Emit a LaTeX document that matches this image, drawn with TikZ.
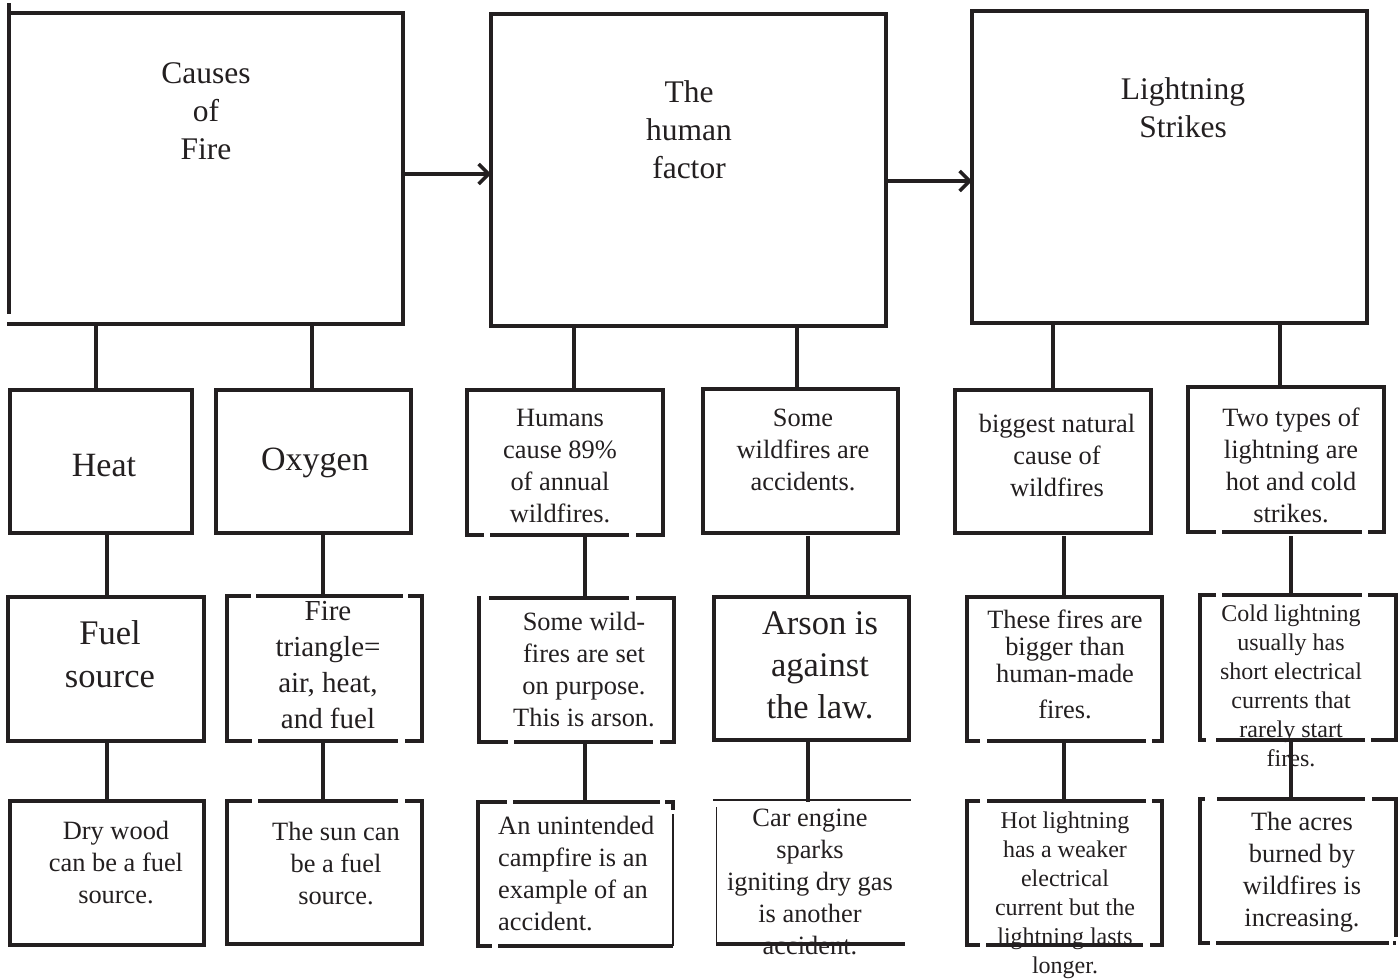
\documentclass[tikz,border=0pt]{standalone}
\usepackage{fontspec}
\setmainfont{Liberation Serif}
\usetikzlibrary{fit,arrows.meta}
\definecolor{ink}{RGB}{35,31,32}
\tikzset{
  area/.style={inner sep=0pt, outer sep=0pt},
  ln/.style={draw=ink, line width=3.4pt, line cap=rect},
  rim/.style={draw=ink, line width=3.4pt, line cap=rect, line join=miter},
  dsh/.style={draw=ink, line width=3.4pt, line cap=butt, dash pattern=#1},
  txt/.style={align=center, inner sep=0pt, text=ink, font=\fontsize{26.4}{32}\selectfont},
  arr/.style={draw=ink, line width=3.4pt, -{Straight Barb[length=10pt,width=20pt]}},
}
\newcommand\mkbox[5]{\node[area, fit={(#2,#3) (#4,#5)}] (#1) {};}
\newcommand\vlink[4][]{\coordinate (vk) at (#4,0); \draw[ln,#1] (#2.south -| vk) -- (#3.north -| vk);}
\newcommand\rimbox[1]{\draw[rim] (#1.north west) rectangle (#1.south east);}
\begin{document}
\begin{tikzpicture}[x=1pt,y=-1pt]
\useasboundingbox[fill=white] (0,0) rectangle (1400,979);
% box areas
\mkbox{cf}{9}{13}{403}{324}
\mkbox{hf}{491}{14}{886}{326}
\mkbox{ls}{972}{11}{1367}{323}
\mkbox{heat}{10}{390}{192}{533}
\mkbox{oxy}{216}{390}{411}{533}
\mkbox{hum}{467}{390}{663}{535}
\mkbox{acc}{703}{389}{898}{533}
\mkbox{big}{955}{390}{1151}{533}
\mkbox{two}{1188}{387}{1384}{532}
\mkbox{fuel}{8}{597}{204}{741}
\mkbox{tri}{227}{596}{422}{741}
\mkbox{pur}{479}{598}{674}{742}
\mkbox{ars}{714}{597}{909}{740}
\mkbox{the}{967}{597}{1162}{741}
\mkbox{cold}{1200}{595}{1396}{740}
\mkbox{dry}{10}{801}{204}{945}
\mkbox{sun}{227}{801}{422}{944}
\mkbox{uni}{478}{802}{673}{946}
\mkbox{car}{716}{800}{908}{944}
\mkbox{hot}{967}{801}{1162}{945}
\mkbox{acr}{1200}{799}{1396}{943}
% texts
\node[txt, font=\fontsize{31.5}{38}\selectfont] (cft) at (206,111) {Causes\\of\\Fire};
\node[txt, font=\fontsize{31.5}{38}\selectfont] (hft) at (689,130) {The\\human\\factor};
\node[txt, font=\fontsize{31.5}{38}\selectfont] (lst) at (1183,108) {Lightning\\Strikes};
\node[txt, font=\fontsize{34}{42}\selectfont] (heatt) at (104,466) {Heat};
\node[txt, font=\fontsize{34}{42}\selectfont] (oxyt) at (315,463) {Oxygen};
\node[txt] (humt) at (560,466) {Humans\\cause 89\%\\of annual\\wildfires.};
\node[txt] (acct) at (803,450) {Some\\wildfires are\\accidents.};
\node[txt] (bigt) at (1057,455) {biggest natural\\cause of\\wildfires};
\node[txt] (twot) at (1291,465) {Two types of\\lightning are\\hot and cold\\strikes.};
\node[txt, font=\fontsize{34.5}{43}\selectfont] (fuelt) at (110,654) {Fuel\\source};
\node[txt, font=\fontsize{29}{36}\selectfont] (trit) at (328,665) {Fire\\triangle=\\air, heat,\\and fuel};
\node[txt] (purt) at (584,670) {Some wild-\\fires are set\\on purpose.\\This is arson.};
\node[txt, font=\fontsize{34.5}{42}\selectfont] (arst) at (820,665) {Arson is\\against\\the law.};
\node[txt, font=\fontsize{26.4}{27}\selectfont] (thet) at (1065,664) {These fires are\\bigger than\\human-made\\[9pt]fires.};
\node[txt, font=\fontsize{24}{29}\selectfont] (coldt) at (1291,686) {Cold lightning\\usually has\\short electrical\\currents that\\rarely start\\fires.};
\node[txt] (dryt) at (116,863) {Dry wood\\can be a fuel\\source.};
\node[txt] (sunt) at (336,864) {The sun can\\be a fuel\\source.};
\node[txt, align=left, anchor=west] (unt) at (498,874) {An unintended\\campfire is an\\example of an\\accident.};
\node[txt] (cart) at (810,882) {Car engine\\sparks\\igniting dry gas\\is another\\accident.};
\node[txt, font=\fontsize{24}{29}\selectfont] (hott) at (1065,895) {Hot lightning\\has a weaker\\electrical\\current but the\\lightning lasts\\longer.};
\node[txt] (acrt) at (1302,872) {The acres\\burned by\\wildfires is\\increasing.};
% top boxes
\draw[rim] (cf.north west) -- (cf.north east) -- (cf.south east) -- (cf.south west);
\draw[ln] ([yshift=8pt]cf.north west) -- ([yshift=12pt]cf.south west);
\rimbox{hf}
\rimbox{ls}
% solid boxes
\rimbox{heat}
\rimbox{oxy}
\rimbox{acc}
\rimbox{big}
\rimbox{fuel}
\rimbox{ars}
\rimbox{dry}
% boxes with gaps
\draw[rim] (hum.south west) -- (hum.north west) -- (hum.north east) -- (hum.south east);
\draw[dsh={on 17pt off 6pt on 139pt off 7pt on 60pt}] (hum.south west) -- (hum.south east);
\draw[rim] (two.south west) -- (two.north west) -- (two.north east) -- (two.south east);
\draw[dsh={on 28pt off 6pt on 140pt off 6pt on 60pt}] (two.south west) -- (two.south east);
\draw[ln] (tri.north west) -- (tri.south west);
\draw[ln] (tri.north east) -- (tri.south east);
\draw[dsh={on 24pt off 5pt on 147pt off 5pt on 60pt}] (tri.north west) -- (tri.north east);
\draw[dsh={on 25pt off 6pt on 140pt off 7pt on 60pt}] (tri.south west) -- (tri.south east);
\draw[ln] (pur.north west) -- (pur.south west);
\draw[ln] (pur.north east) -- (pur.south east);
\draw[dsh={on 2pt off 8pt on 140pt off 7pt on 60pt}] (pur.north west) -- (pur.north east);
\draw[dsh={on 29pt off 6pt on 139pt off 7pt on 60pt}] (pur.south west) -- (pur.south east);
\draw[rim] (the.south west) -- (the.north west) -- (the.north east) -- (the.south east);
\draw[dsh={on 13pt off 7pt on 159pt off 6pt on 60pt}] (the.south west) -- (the.south east);
\draw[ln] (cold.north west) -- (cold.south west);
\draw[ln] (cold.north east) -- (cold.south east);
\draw[dsh={on 16pt off 6pt on 140pt off 6pt on 60pt}] (cold.north west) -- (cold.north east);
\draw[dsh={on 6pt off 10pt on 149pt off 6pt on 60pt}] (cold.south west) -- (cold.south east);
\draw[rim] (sun.north west) -- (sun.south west) -- (sun.south east) -- (sun.north east);
\draw[dsh={on 25pt off 6pt on 140pt off 7pt on 60pt}] (sun.north west) -- (sun.north east);
\draw[ln] (uni.north west) -- (uni.south west);
\draw[ln] ([yshift=-6pt]uni.north east) -- (uni.north east);
\draw[draw=ink, line width=1.5pt] ([yshift=-12pt]uni.north east) -- (uni.south east);
\draw[dsh={on 29pt off 6pt on 147pt off 5pt on 60pt}] (uni.north west) -- (uni.north east);
\draw[dsh={on 14pt off 6pt on 200pt}] (uni.south west) -- (uni.south east);
\draw[draw=ink, line width=2pt] ([xshift=-3pt]car.north west) -- ([xshift=3pt]car.north east);
\draw[draw=ink, line width=1pt] ([yshift=-7pt]car.north west) -- (car.south west);
\draw[draw=ink, line width=3.4pt] (car.south west) -- ([xshift=-3pt]car.south east);
\draw[ln] (hot.north west) -- (hot.south west);
\draw[ln] (hot.north east) -- (hot.south east);
\draw[dsh={on 13pt off 7pt on 159pt off 6pt on 60pt}] (hot.north west) -- (hot.north east);
\draw[dsh={on 13pt off 6pt on 157pt off 7pt on 60pt}] (hot.south west) -- (hot.south east);
\draw[ln] (acr.north west) -- (acr.south west);
\draw[ln] (acr.north east) -- ([yshift=8pt]acr.south east);
\draw[dsh={on 5pt off 12pt on 148pt off 7pt on 60pt}] (acr.north west) -- (acr.north east);
\draw[dsh={on 10pt off 6pt on 173pt off 4pt on 60pt}] (acr.south west) -- (acr.south east);
% arrows
\draw[arr] ([yshift=-5.5pt]cf.east) -- ([yshift=-4pt]hf.west);
\draw[arr] ([yshift=-11pt]hf.east) -- ([yshift=-14pt]ls.west);
% connectors
\vlink{cf}{heat}{96}
\vlink{cf}{oxy}{312}
\vlink{hf}{hum}{574}
\vlink{hf}{acc}{797}
\vlink{ls}{big}{1053}
\vlink{ls}{two}{1280}
\vlink{heat}{fuel}{107}
\vlink[shorten <=4pt]{oxy}{tri}{323}
\vlink[shorten <=4pt]{hum}{pur}{585}
\vlink[shorten <=5pt]{acc}{ars}{808}
\vlink[shorten <=5pt]{big}{the}{1064}
\vlink[shorten <=6pt]{two}{cold}{1291}
\vlink{fuel}{dry}{107}
\vlink{tri}{sun}{323}
\vlink{pur}{uni}{585}
\vlink{ars}{car}{808}
\vlink{the}{hot}{1064}
\vlink{cold}{acr}{1291}
\end{tikzpicture}
\end{document}
